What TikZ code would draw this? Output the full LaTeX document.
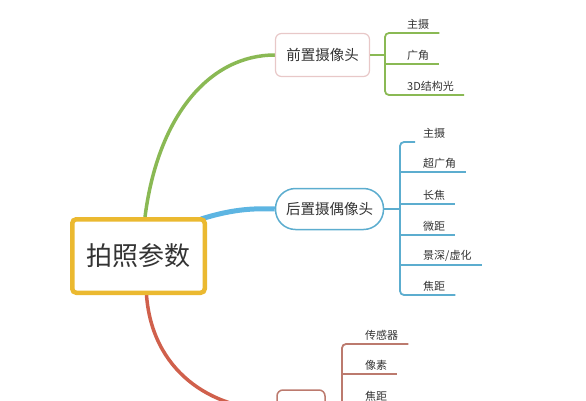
\documentclass[tikz,border=0pt]{standalone}
\usepackage{fontspec}
\newfontfamily\cjk{Noto Sans CJK SC}
\usetikzlibrary{calc,backgrounds}
\definecolor{cgreen}{HTML}{8AB954}
\definecolor{cblue}{HTML}{5DB5E2}
\definecolor{cbluebr}{HTML}{5CADCF}
\definecolor{cred}{HTML}{D0604C}
\definecolor{credbr}{HTML}{BC7A6E}
\definecolor{cyel}{HTML}{EBB930}
\definecolor{cpink}{HTML}{E8C8C8}
\definecolor{ctxt}{HTML}{333333}
\tikzset{
  rootbox/.style={draw=cyel, line width=4.5pt, rounded corners=4pt, fill=white,
    text=ctxt, font=\cjk\fontsize{26}{30}\selectfont, minimum width=132.5pt, minimum height=73.5pt},
  subbox/.style={text=ctxt, font=\cjk\fontsize{14.5}{17}\selectfont, fill=white, inner sep=0pt},
  leaf/.style={text=ctxt, font=\cjk\fontsize{11}{13}\selectfont, inner xsep=0pt, inner ysep=3pt, anchor=south west},
  fbr/.style={cgreen, line width=1.8pt},
  bbr/.style={cbluebr, line width=1.8pt},
  rbr/.style={credbr, line width=1.8pt},
}
\begin{document}
\begin{tikzpicture}[x=1pt,y=-1pt]
\useasboundingbox (0,0) rectangle (586,400);
\clip (0,0) rectangle (586,400);

% nodes
\node[rootbox] (root) at (138.5,256) {拍照参数};
\node[subbox, draw=cpink, line width=1.2pt, rounded corners=6pt, minimum width=94pt, minimum height=43pt] (front) at (322.5,55) {前置摄像头};
\node[subbox, draw=cbluebr, line width=1.5pt, rounded corners=20pt, minimum width=108pt, minimum height=41pt] (back) at (329.5,209) {后置摄偶像头};
\node[subbox, draw=credbr, line width=1.5pt, rounded corners=6pt, minimum width=48pt, minimum height=40pt] (bottom) at (301,410) {};

% main connectors
\begin{scope}[on background layer]
\draw[cgreen, line width=3.5pt] ([xshift=6.5pt]root.center) -- ([xshift=6.5pt]root.north) .. controls (158,115) and (210,55) .. (front.west);
\draw[cblue, line width=5pt] ([xshift=-6pt,yshift=-2pt]root.north east) .. controls (230,210) and (250,208) .. (back.west);
\draw[cred, line width=3.5pt] ([xshift=8pt]root.center) -- ([xshift=8pt]root.south) .. controls (152,370) and (210,410) .. (bottom.west);
\end{scope}

% front branch
\coordinate (fb) at (385,55);
\node[leaf] (f1) at (407,33) {主摄};
\node[leaf] (f2) at (407,64) {广角};
\node[leaf] (f3) at (407,95) {3D结构光};
\draw[fbr] (front.east) -- (fb);
\draw[fbr, rounded corners=4pt] ($(f1.south east)+(10,0)$) -- (f1.south -| fb) -- (f3.south -| fb) -- ($(f3.south east)+(10,0)$);
\draw[fbr] (f2.south -| fb) -- ($(f2.south east)+(10,0)$);

% back branch
\coordinate (bb) at (400,209);
\node[leaf] (b1) at (423,142) {主摄};
\node[leaf] (b2) at (423,172) {超广角};
\node[leaf] (b3) at (423,204) {长焦};
\node[leaf] (b4) at (423,235) {微距};
\node[leaf] (b5) at (423,265) {景深/虚化};
\node[leaf] (b6) at (423,295) {焦距};
\draw[bbr] (back.east) -- (bb);
\draw[bbr, rounded corners=4pt] ($(b1.south -| bb)+(15,0)$) -- (b1.south -| bb) -- (b6.south -| bb) -- ($(b6.south east)+(10,0)$);
\draw[bbr] (b2.south -| bb) -- ($(b2.south east)+(10,0)$);
\draw[bbr] (b3.south -| bb) -- ($(b3.south east)+(10,0)$);
\draw[bbr] (b4.south -| bb) -- ($(b4.south east)+(10,0)$);
\draw[bbr] (b5.south -| bb) -- ($(b5.south east)+(10,0)$);

% bottom branch
\coordinate (rb) at (342,410);
\node[leaf] (r1) at (365,344) {传感器};
\node[leaf] (r2) at (365,374) {像素};
\node[leaf] (r3) at (365,405) {焦距};
\draw[rbr] (bottom.east) -- (rb);
\draw[rbr, rounded corners=4pt] ($(r1.south east)+(10,0)$) -- (r1.south -| rb) -- (r3.south -| rb);
\draw[rbr] (r2.south -| rb) -- ($(r2.south east)+(10,0)$);
\draw[rbr] (r3.south -| rb) -- ($(r3.south east)+(10,0)$);
\end{tikzpicture}
\end{document}
